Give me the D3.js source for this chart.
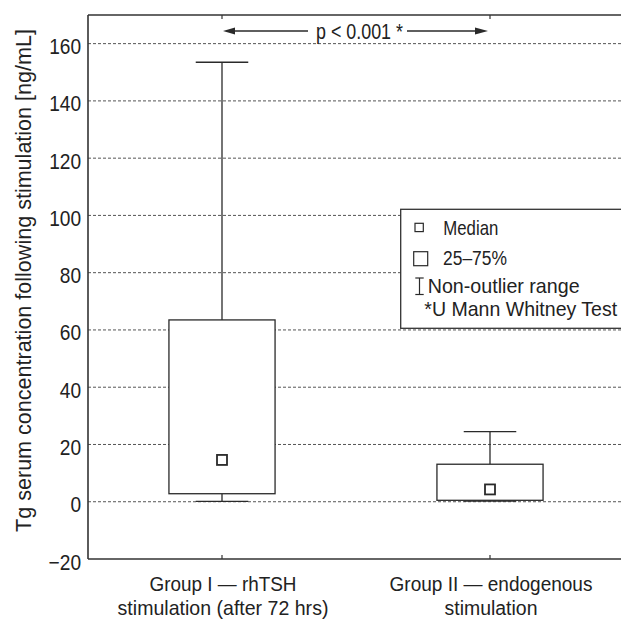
<!DOCTYPE html>
<html><head><meta charset="utf-8">
<script src="https://cdn.jsdelivr.net/npm/d3@7"></script>
<style>
html,body{margin:0;padding:0;background:#fff;}
svg{display:block;}
text{font-family:"Liberation Sans",Arial,sans-serif;fill:#222;}
</style></head>
<body>
<svg id="chart" width="621" height="619"></svg>
<script>
const groups = ["Group I — rhTSH|stimulation (after 72 hrs)", "Group II — endogenous|stimulation"];
const whiskerLow = [0.1, 0.2];
const q1 = [2.8, 0.5];
const median = [14.6, 4.3];
const q3 = [63.5, 13.1];
const whiskerHigh = [153.5, 24.5];
const yTicks = [-20, 0, 20, 40, 60, 80, 100, 120, 140, 160];
const gridTicks = [0, 20, 40, 60, 80, 100, 120, 140, 160];
const yTitle = "Tg serum concentration following stimulation [ng/mL]";
const pText = "p < 0.001 *";
const legendItems = ["Median", "25–75%", "Non-outlier range", "*U Mann Whitney Test"];

const textW = {
  "Group I — rhTSH": 147, "stimulation (after 72 hrs)": 211,
  "Group II — endogenous": 203, "stimulation": 93,
  "p < 0.001 *": 87, "Median": 55, "25–75%": 64,
  "Non-outlier range": 152, "*U Mann Whitney Test": 193,
  [yTitle]: 503
};

const svg = d3.select("#chart");
const L = 88, R = 624, T = 15, B = 559;
const y = d3.scaleLinear().domain([-20, 170]).range([B, T]);
const x = d3.scalePoint().domain(groups).range([L, R]).padding(0.5);
const step = x.step();
const boxW = step * 0.396, capW = step * 0.196, medS = 10;
const ink = "#2a2a2a";
const FS = 21.5;

// narrow text: compress horizontally with a transform so its box stays true
function narrowText(parent, s, px, py, opts = {}) {
  const t = parent.append("text").attr("font-size", opts.fs || FS)
    .attr("text-anchor", opts.anchor || "start").text(s);
  const nat = t.node().getComputedTextLength();
  const sx = textW[s] / nat;
  t.attr("transform", `translate(${px},${py})${opts.rot ? " rotate(" + opts.rot + ")" : ""} scale(${sx},1)`);
  return t;
}

// gridlines
svg.append("g").selectAll("line").data(gridTicks).join("line")
  .attr("x1", L).attr("x2", 621).attr("y1", d => y(d)).attr("y2", d => y(d))
  .attr("stroke", "#555").attr("stroke-width", 1).attr("stroke-dasharray", "3,2");

// y axis labels
const yAxis = d3.axisLeft(y).tickValues(yTicks).tickSize(0).tickPadding(8)
  .tickFormat(d => d < 0 ? "\u2212" + Math.abs(d) : d);
const ga = svg.append("g").attr("transform", `translate(${L},0)`).call(yAxis);
ga.select(".domain").remove();
ga.selectAll("text").attr("font-size", 22).attr("fill", "#222")
  .attr("font-family", '"Liberation Sans",Arial,sans-serif')
  .attr("dy", 10).attr("transform", "scale(0.87,1)");

// boxes
const gb = svg.append("g");
groups.forEach((g, i) => {
  const cx = x(g);
  const ln = (x1, x2, y1, y2) => gb.append("line").attr("x1", x1).attr("x2", x2).attr("y1", y1).attr("y2", y2)
    .attr("stroke", ink).attr("stroke-width", 1.3);
  ln(cx, cx, y(whiskerHigh[i]), y(q3[i]));
  ln(cx, cx, y(q1[i]), y(whiskerLow[i]));
  ln(cx - capW / 2, cx + capW / 2, y(whiskerHigh[i]), y(whiskerHigh[i]));
  ln(cx - capW / 2, cx + capW / 2, y(whiskerLow[i]), y(whiskerLow[i]));
  gb.append("rect").attr("x", cx - boxW / 2).attr("width", boxW)
    .attr("y", y(q3[i])).attr("height", y(q1[i]) - y(q3[i]))
    .attr("fill", "#fff").attr("stroke", ink).attr("stroke-width", 1.3);
  gb.append("rect").attr("x", cx - medS / 2).attr("y", y(median[i]) - medS / 2)
    .attr("width", medS).attr("height", medS)
    .attr("fill", "#fff").attr("stroke", ink).attr("stroke-width", 1.8);
});

// frame
const fr = svg.append("g").attr("stroke", "#333").attr("stroke-width", 1.6);
fr.append("line").attr("x1", L).attr("x2", L).attr("y1", T).attr("y2", B);
fr.append("line").attr("x1", L).attr("x2", 621).attr("y1", T).attr("y2", T);
fr.append("line").attr("x1", L).attr("x2", 621).attr("y1", B).attr("y2", B);
groups.forEach(g => {
  fr.append("line").attr("x1", x(g)).attr("x2", x(g)).attr("y1", T).attr("y2", T + 4).attr("stroke-width", 1.2);
  fr.append("line").attr("x1", x(g)).attr("x2", x(g)).attr("y1", B).attr("y2", B - 4).attr("stroke-width", 1.2);
});

// category labels
groups.forEach(g => {
  g.split("|").forEach((s, k) => {
    narrowText(svg, s, x(g) + 1, 591 + k * 23.5, { anchor: "middle", fs: 21 });
  });
});

// y title
narrowText(svg, yTitle, 31, 280.5, { anchor: "middle", rot: -90 });

// p-value annotation
const ay = 31;
const x0 = x(groups[0]), x1 = x(groups[1]);
narrowText(svg, pText, 316, ay + 7.5);
svg.append("line").attr("x1", x0 + 12).attr("x2", 308).attr("y1", ay).attr("y2", ay).attr("stroke", ink).attr("stroke-width", 1.3);
svg.append("line").attr("x1", 407).attr("x2", x1 - 14).attr("y1", ay).attr("y2", ay).attr("stroke", ink).attr("stroke-width", 1.3);
svg.append("path").attr("d", `M${x0 + 1},${ay} L${x0 + 13},${ay - 3.6} L${x0 + 13},${ay + 3.6} Z`).attr("fill", ink);
svg.append("path").attr("d", `M${x1 - 2},${ay} L${x1 - 15},${ay - 3.6} L${x1 - 15},${ay + 3.6} Z`).attr("fill", ink);

// legend
const lg = svg.append("g");
lg.append("rect").attr("x", 400.7).attr("y", 209.3).attr("width", 240).attr("height", 119)
  .attr("fill", "#fff").attr("stroke", "#333").attr("stroke-width", 1.3);
lg.append("rect").attr("x", 415).attr("y", 223.3).attr("width", 8.3).attr("height", 8.3)
  .attr("fill", "#fff").attr("stroke", ink).attr("stroke-width", 1.2);
lg.append("rect").attr("x", 413.7).attr("y", 251.7).attr("width", 14).attr("height", 14)
  .attr("fill", "#fff").attr("stroke", ink).attr("stroke-width", 1.2);
lg.append("line").attr("x1", 419.5).attr("x2", 419.5).attr("y1", 278).attr("y2", 294.5).attr("stroke", ink).attr("stroke-width", 1.2);
lg.append("line").attr("x1", 415.3).attr("x2", 423.7).attr("y1", 278).attr("y2", 278).attr("stroke", ink).attr("stroke-width", 1.2);
lg.append("line").attr("x1", 415.3).attr("x2", 423.7).attr("y1", 294.5).attr("y2", 294.5).attr("stroke", ink).attr("stroke-width", 1.2);
const lx = [443.3, 443, 427.7, 424.3];
const ly = [235, 265, 293, 316];
legendItems.forEach((s, i) => {
  narrowText(lg, s, lx[i], ly[i], { fs: 20.5 });
});
</script>
</body></html>
